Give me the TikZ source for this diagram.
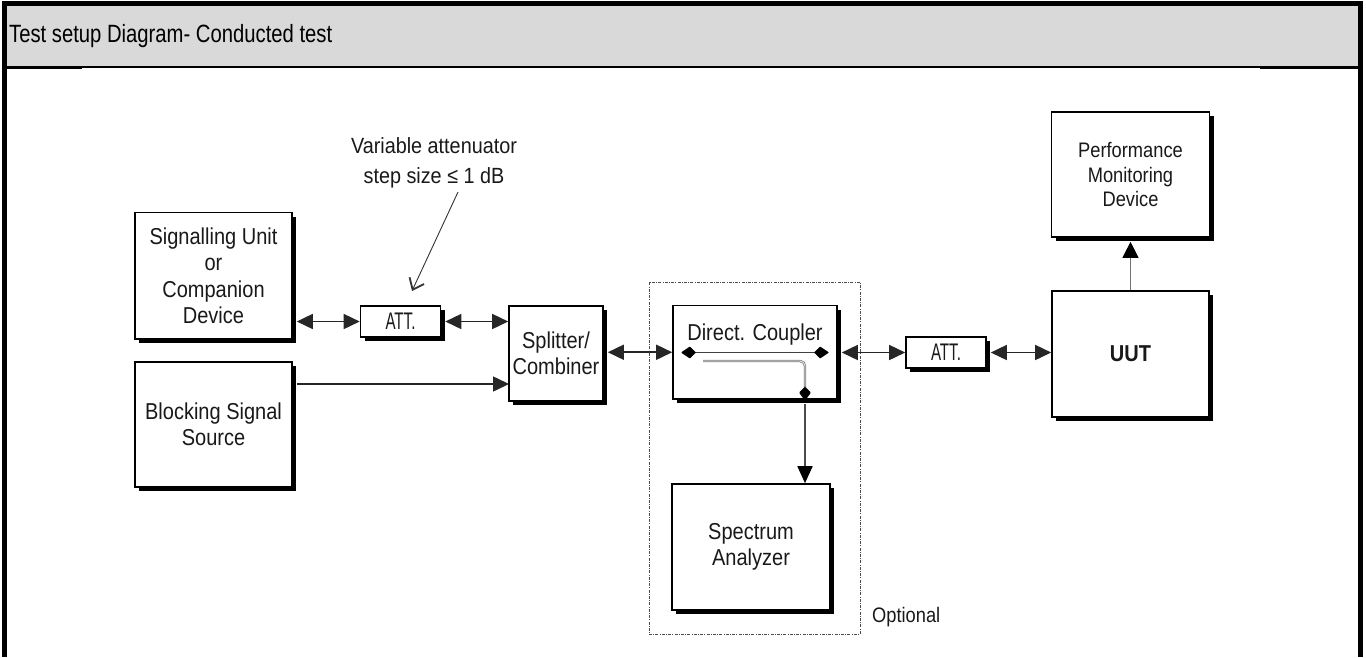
\documentclass[tikz,border=0pt]{standalone}
\usepackage{fontspec}
\setmainfont{Liberation Sans}
\newfontfamily\hdrfam{Liberation Sans}[FakeStretch=0.81]
\newfontfamily\boxfam{Liberation Sans}[FakeStretch=0.87]
\newfontfamily\attfam{Liberation Sans}[FakeStretch=0.63]
\newfontfamily\notefam{Liberation Sans}[FakeStretch=0.9]
\usetikzlibrary{arrows.meta,shadows,calc}
\begin{document}
\begin{tikzpicture}[x=1pt,y=-1pt,
  box/.style={draw, line width=1.6pt, fill=white, align=center, inner sep=0pt, text=black!90,
    drop shadow={shadow xshift=4pt, shadow yshift=-4pt, opacity=1, fill=black}},
  boxtext/.style={font=\boxfam\fontsize{23}{26.5}\selectfont},
  pmdtext/.style={font=\boxfam\fontsize{21}{24.5}\selectfont},
  atttext/.style={font=\attfam\fontsize{24}{26}\selectfont},
  tri/.tip={Triangle[length=16pt,width=15pt]},
  link/.style={line width=1.6pt, draw=black!85, tri-tri},
  onelink/.style={line width=1.6pt, draw=black!85, -tri},
  optbox/.style={draw=black!70, line width=0.8pt, dash pattern=on 3pt off 1.2pt on 1pt off 1.2pt, inner sep=0pt},
  plain/.style={inner sep=0pt, text=black!90}
]
\useasboundingbox (0,0) rectangle (1366,657);

% frame and header
\fill[black!15] (7,6) rectangle (1358,67);
\draw[line width=1.2pt] (7,67) -- (1358,67);
\draw[line width=2.4pt] (7,68) -- (82,68);
\draw[line width=2.4pt] (1260,68) -- (1358,68);
\draw[line width=5pt] (2,3.5) -- (1363,3.5);
\draw[line width=5pt] (4.5,1) -- (4.5,657);
\draw[line width=5pt] (1360.5,1) -- (1360.5,657);
\node[anchor=base west, inner sep=0pt, font=\hdrfam\fontsize{25}{30}\selectfont] (title) at (9,42.5) {Test setup Diagram- Conducted test};

% optional group
\node[optbox, minimum width=211pt, minimum height=352pt] (opt) at (754.5,458) {};
\node[plain, anchor=base west, font=\boxfam\fontsize{21}{24}\selectfont] (optlbl) at (872,622) {Optional};

% boxes
\node[box, boxtext, minimum width=157pt, minimum height=126.5pt] (sig) at (213.5,275.75) {Signalling Unit\\or\\Companion\\Device};
\node[box, boxtext, minimum width=157pt, minimum height=125pt] (blk) at (213.5,424.5) {Blocking Signal\\Source};
\node[box, atttext, minimum width=80pt, minimum height=31pt] (att1) at (400.5,321.5) {ATT.};
\node[box, boxtext, minimum width=94pt, minimum height=95pt] (split) at (556,353.5) {Splitter/\\Combiner};
\node[box, minimum width=164pt, minimum height=93.5pt] (coup) at (755,352.25) {};
\node[plain, anchor=base, font=\boxfam\fontsize{23}{26}\selectfont] (couplbl) at (755,340) {Direct. Coupler};
\node[box, boxtext, minimum width=158pt, minimum height=126pt] (spec) at (751,547) {Spectrum\\Analyzer};
\node[box, atttext, minimum width=80pt, minimum height=31pt] (att2) at (946,352.5) {ATT.};
\node[box, font=\boxfam\bfseries\fontsize{23}{26}\selectfont, minimum width=157pt, minimum height=126pt] (uut) at (1130.5,354) {UUT};
\node[box, pmdtext, minimum width=158pt, minimum height=125pt] (pmd) at (1130.5,174.5) {Performance\\Monitoring\\Device};

% annotation
\node[plain, align=center, font=\notefam\fontsize{22}{29.5}\selectfont] (note) at (434,163) {Variable attenuator\\step size ≤ 1 dB};
\coordinate (nt) at (458,192);
\coordinate (nh) at (412,291);
\draw[line width=0.9pt, black!80, -{Straight Barb[length=10pt,width=16pt,line width=1.8pt]}] (nt) -- (nh);

% connectors
\draw[link] ([xshift=4pt]att1.west -| sig.east) -- (att1.west);
\draw[link] ([xshift=4pt]att1.east) -- (att1.east -| split.west);
\coordinate (bkin) at (509,384);
\draw[onelink] ([xshift=4pt]bkin -| blk.east) -- (bkin);
\draw[link] ([xshift=4pt]split.east |- coup.west) -- (coup.west);
\draw[link] ([xshift=4pt]att2.west -| coup.east) -- (att2.west);
\draw[link] ([xshift=4pt]att2.east) -- (att2.east -| uut.west);
\draw[line width=0.9pt, draw=black!55, -{Triangle[length=16pt,width=16pt,color=black]}] (uut.north) -- ([yshift=-4pt]pmd.south);

% coupler internals
\coordinate (cpl) at (681.5,352.5);
\coordinate (cpr) at (828.5,352.5);
\draw[line width=1.3pt, draw=black!75, {Kite[length=15pt,width=12pt,inset=6pt,round,color=black]}-{Kite[length=15pt,width=12pt,inset=6pt,round,color=black]}] (cpl) -- (cpr);
\coordinate (tapA) at (703,361);
\coordinate (tapB) at (805,361);
\draw[line width=2.4pt, draw=black!50, rounded corners=5pt, -{Kite[length=14pt,width=12pt,inset=6pt,round,color=black]}] (tapA) -- (tapB) -- (tapB |- coup.south);
\draw[line width=0.9pt, draw=black!10, rounded corners=5pt] (tapA) -- (tapB) -- ([yshift=14pt]tapB |- coup.south);
\draw[line width=1.7pt, draw=black!70, -{Triangle[length=17pt,width=15pt,color=black]}] ([yshift=-4.5pt]tapB |- coup.south) -- (tapB |- spec.north);
\end{tikzpicture}
\end{document}
